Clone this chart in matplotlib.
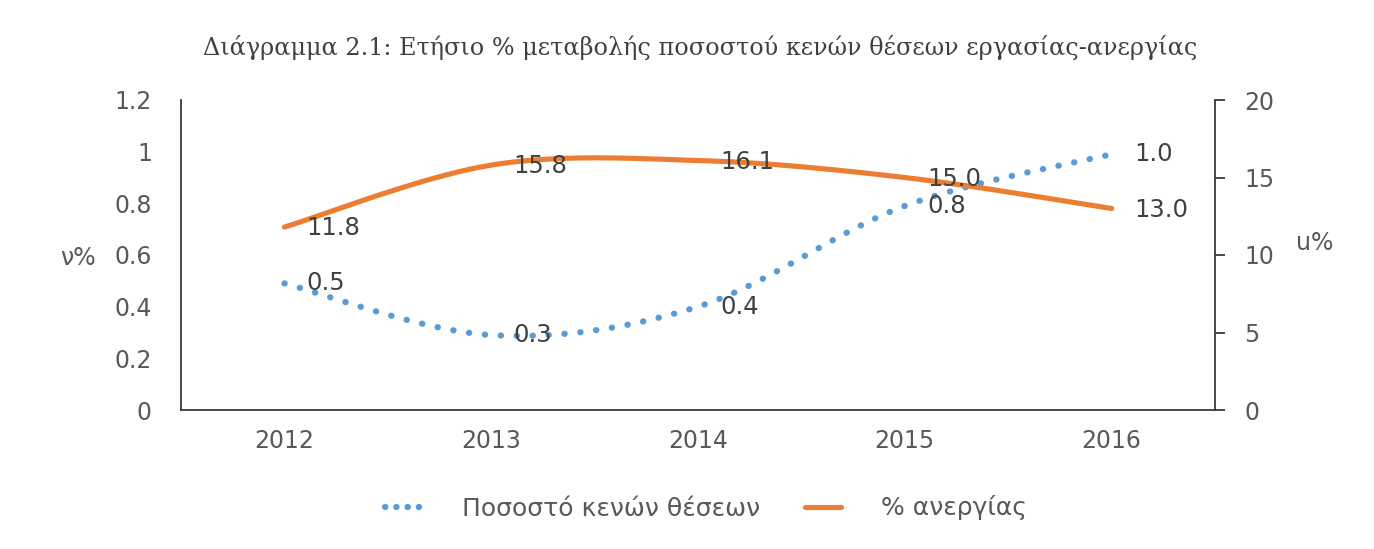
import numpy as np
import matplotlib
matplotlib.use('Agg')
import matplotlib.pyplot as plt
from matplotlib.lines import Line2D

years = ['2012', '2013', '2014', '2015', '2016']
vacancy = [0.49, 0.29, 0.40, 0.79, 0.99]
vacancy_labels = ['0.5', '0.3', '0.4', '0.8', '1.0']
unemployment = [11.8, 15.8, 16.1, 15.0, 13.0]
unemployment_labels = ['11.8', '15.8', '16.1', '15.0', '13.0']

title = 'Διάγραμμα 2.1: Ετήσιο % μεταβολής ποσοστού κενών θέσεων εργασίας-ανεργίας'
name_vacancy = 'Ποσοστό κενών θέσεων'
name_unemp = '% ανεργίας'

BLUE = '#5B9BD5'
ORANGE = '#ED7D31'
GREY = '#595959'
DARK = '#404040'


def smooth(xs, ys, n=40):
    # excel-like smoothed line: bezier with catmull-rom control points
    x = np.asarray(xs, float)
    y = np.asarray(ys, float)
    px = np.concatenate([[x[0]], x, [x[-1]]])
    py = np.concatenate([[y[0]], y, [y[-1]]])
    outx, outy = [], []
    t = np.linspace(0, 1, n)
    for i in range(1, len(px) - 2):
        p0 = np.array([px[i], py[i]])
        p3 = np.array([px[i + 1], py[i + 1]])
        p1 = p0 + (np.array([px[i + 1], py[i + 1]]) - np.array([px[i - 1], py[i - 1]])) / 6
        p2 = p3 - (np.array([px[i + 2], py[i + 2]]) - np.array([px[i], py[i]])) / 6
        b = ((1 - t) ** 3)[:, None] * p0 + (3 * (1 - t) ** 2 * t)[:, None] * p1 \
            + (3 * (1 - t) * t ** 2)[:, None] * p2 + (t ** 3)[:, None] * p3
        outx.extend(b[:, 0])
        outy.extend(b[:, 1])
    return outx, outy


fig = plt.figure(figsize=(13.74, 5.49), dpi=100)
ax = fig.add_axes([181 / 1374, 139 / 549, 1034 / 1374, 310 / 549])
ax2 = ax.twinx()

xpos = np.arange(len(years))

dots = (0, (0.05, 2.5))
sx, sy = smooth(xpos, vacancy)
ax.plot(sx, sy, color=BLUE, lw=4.5, linestyle=dots,
        dash_capstyle='round', zorder=3)
ux, uy = smooth(xpos, unemployment)
ax2.plot(ux, uy, color=ORANGE, lw=3.7, solid_capstyle='round', zorder=3)

for i, lab in enumerate(vacancy_labels):
    ax.annotate(lab, (xpos[i], vacancy[i]), xytext=(16, 0),
                textcoords='offset points', ha='left', va='center',
                fontsize=17.5, color=DARK, zorder=5)
for i, lab in enumerate(unemployment_labels):
    ax2.annotate(lab, (xpos[i], unemployment[i]), xytext=(16, -1),
                 textcoords='offset points', ha='left', va='center',
                 fontsize=17.5, color=DARK, zorder=5)

ax.set_xlim(-0.5, len(years) - 0.5)
ax.set_ylim(0, 1.2)
ax.set_yticks([0, 0.2, 0.4, 0.6, 0.8, 1.0, 1.2])
ax.set_yticklabels(['0', '0.2', '0.4', '0.6', '0.8', '1', '1.2'])
ax2.set_ylim(0, 20)
ax2.set_yticks([0, 5, 10, 15, 20])
ax.set_xticks(xpos)
ax.set_xticklabels(years)

for a in (ax, ax2):
    a.spines['top'].set_visible(False)
    for s in a.spines.values():
        s.set_color('#3a3a3a')
        s.set_linewidth(1.3)
ax.spines['right'].set_visible(False)
ax2.spines['left'].set_visible(False)
ax2.spines['bottom'].set_visible(False)

ax.tick_params(axis='y', length=0, pad=21, labelsize=17, labelcolor=GREY)
ax.tick_params(axis='x', length=0, pad=14, labelsize=17, labelcolor=GREY)
ax2.tick_params(axis='y', length=7, width=1.3, color='#3a3a3a', pad=14,
                labelsize=17, labelcolor=GREY)

fig.text(78 / 1374, 1 - 258 / 549, 'ν%', fontsize=17, color=GREY,
         ha='center', va='center')
fig.text(1315 / 1374, 1 - 243 / 549, 'u%', fontsize=17, color=GREY,
         ha='center', va='center')

fig.text(700 / 1374, 1 - 48 / 549, title, family='DejaVu Serif', fontsize=17.2,
         color=DARK, ha='center', va='center')

handles = [
    Line2D([], [], color=BLUE, lw=4.5, linestyle=(0, (0.05, 1.75)),
           dash_capstyle='round'),
    Line2D([], [], color=ORANGE, lw=3.7, solid_capstyle='round'),
]
fig.legend(handles, [name_vacancy, name_unemp], loc='center',
           bbox_to_anchor=(706 / 1374, 1 - 508 / 549), ncol=2, frameon=False,
           fontsize=18, labelcolor=GREY, handlelength=1.45,
           handletextpad=1.6, columnspacing=1.8)

fig.savefig('out.png', dpi=100)
